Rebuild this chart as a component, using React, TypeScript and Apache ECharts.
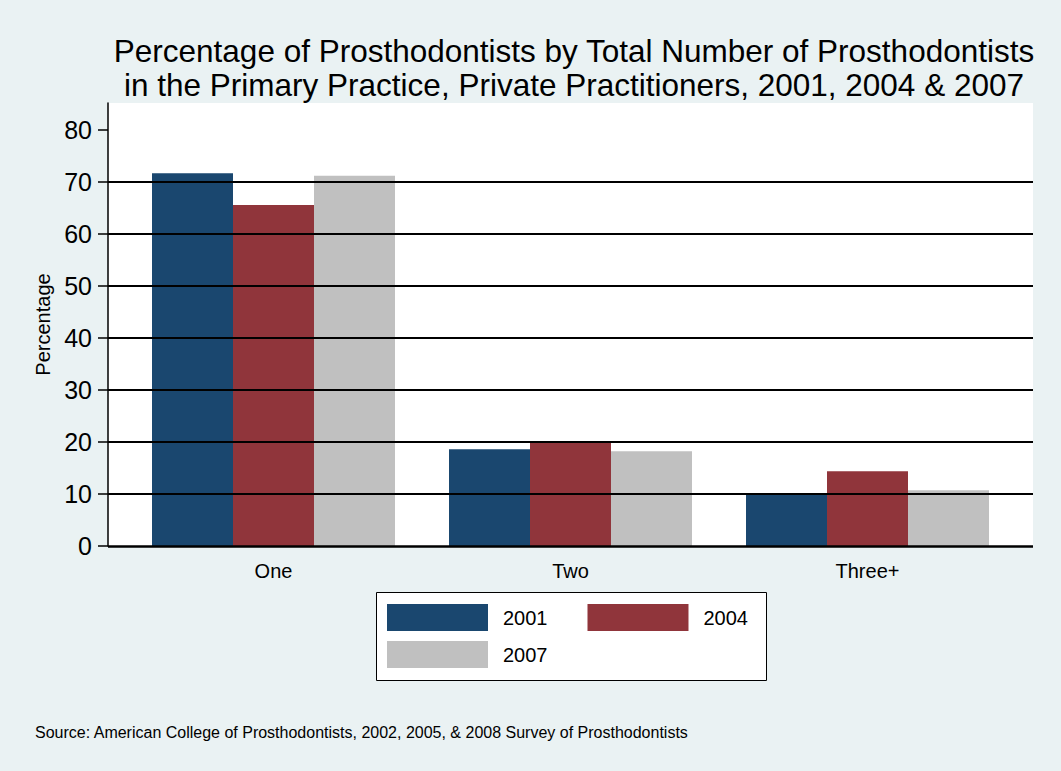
import React, { useEffect, useRef } from "react";
import * as echarts from "echarts";

const categories = ["One", "Two", "Three+"];
const years = ["2001", "2004", "2007"];
const values2001 = [71.7, 18.6, 9.8];
const values2004 = [65.6, 20.2, 14.4];
const values2007 = [71.2, 18.2, 10.7];
const yTicks = [0, 10, 20, 30, 40, 50, 60, 70, 80];
const gridLineValues = [10, 20, 30, 40, 50, 60, 70];
const colors = ["#1a476f", "#90353b", "#c0c0c0"];

const titleText =
  "Percentage of Prosthodontists by Total Number of Prosthodontists\nin the Primary Practice, Private Practitioners, 2001, 2004 & 2007";
const sourceText =
  "Source: American College of Prosthodontists, 2002, 2005, & 2008 Survey of Prosthodontists";

const FONT = "'Liberation Sans', Arial, sans-serif";

export default function App() {
  const ref = useRef<HTMLDivElement>(null);
  useEffect(() => {
    if (!ref.current) return;
    const chart = echarts.init(ref.current, null, { renderer: "svg" });
    const yMax = 85.2;
    const seriesVals = [values2001, values2004, values2007];
    chart.setOption({
      animation: false,
      backgroundColor: "#eaf2f3",
      textStyle: { fontFamily: FONT },
      title: {
        text: titleText,
        left: 569,
        textAlign: "center",
        top: 29,
        textStyle: {
          fontFamily: FONT,
          fontSize: 31.5,
          fontWeight: "normal",
          color: "#000",
          lineHeight: 34,
        },
      },
      grid: [
        { left: 108, top: 103, width: 925, height: 443, show: true, backgroundColor: "#fff", borderWidth: 0 },
        { left: 125, top: 103, width: 891, height: 443 },
      ],
      xAxis: [
        { type: "category", gridIndex: 0, data: categories, show: false },
        {
          type: "category",
          gridIndex: 1,
          data: categories,
          axisLine: { show: false },
          axisTick: { show: false },
          axisLabel: { fontSize: 20, color: "#000", margin: 15, fontFamily: FONT },
        },
      ],
      yAxis: [
        {
          type: "value",
          gridIndex: 0,
          min: 0,
          max: yMax,
          name: "Percentage",
          nameLocation: "middle",
          nameRotate: 90,
          nameGap: 53,
          nameTextStyle: { fontSize: 20, color: "#000", fontFamily: FONT },
          axisLine: { show: true, lineStyle: { color: "#000", width: 1.5 } },
          axisTick: { show: true, length: 10, customValues: yTicks, lineStyle: { color: "#000", width: 1.5 } },
          axisLabel: { fontSize: 25, color: "#000", margin: 16, customValues: yTicks, fontFamily: FONT },
          splitLine: { show: false },
        },
        { type: "value", gridIndex: 1, min: 0, max: yMax, show: false, splitLine: { show: false } },
      ],
      legend: [
        {
          data: [years[0], years[1]],
          left: 387,
          top: 604,
          padding: 0,
          itemWidth: 101,
          itemHeight: 27,
          itemGap: 40,
          icon: "rect",
          selectedMode: false,
          textStyle: { fontSize: 20, color: "#000", padding: [0, 0, 0, 10], fontFamily: FONT },
        },
        {
          data: [years[2]],
          left: 387,
          top: 641,
          padding: 0,
          itemWidth: 101,
          itemHeight: 27,
          icon: "rect",
          selectedMode: false,
          textStyle: { fontSize: 20, color: "#000", padding: [0, 0, 0, 10], fontFamily: FONT },
        },
      ],
      graphic: [
        {
          type: "rect",
          shape: { x: 376.5, y: 592.5, width: 390, height: 88 },
          style: { fill: "#fff", stroke: "#000", lineWidth: 1 },
          z: 0,
        },
        {
          type: "text",
          x: 35,
          y: 732,
          style: { text: sourceText, fontSize: 16, fill: "#000", fontFamily: FONT, textVerticalAlign: "middle" },
        },
      ],
      series: [
        {
          type: "line",
          name: "gridlines",
          xAxisIndex: 0,
          yAxisIndex: 0,
          data: [],
          z: 1,
          silent: true,
          markLine: {
            silent: true,
            symbol: "none",
            label: { show: false },
            lineStyle: { color: "#000", width: 2, type: "solid" },
            data: gridLineValues.map((v) => ({ yAxis: v })),
          },
        },
        ...years.map((y, i) => ({
          type: "bar",
          name: y,
          xAxisIndex: 1,
          yAxisIndex: 1,
          data: seriesVals[i],
          barWidth: 81,
          barGap: "0%",
          z: 2,
          itemStyle: { color: colors[i] },
        })),
        {
          type: "line",
          name: "baseline",
          xAxisIndex: 0,
          yAxisIndex: 0,
          data: [],
          z: 3,
          silent: true,
          markLine: {
            silent: true,
            symbol: "none",
            label: { show: false },
            lineStyle: { color: "#000", width: 2.5, type: "solid" },
            data: [{ yAxis: 0 }],
          },
        },
      ],
    });
    return () => chart.dispose();
  }, []);
  return (
    <div
      ref={ref}
      style={{ position: "absolute", left: 0, top: 0, width: 1061, height: 771, background: "#eaf2f3" }}
    />
  );
}
